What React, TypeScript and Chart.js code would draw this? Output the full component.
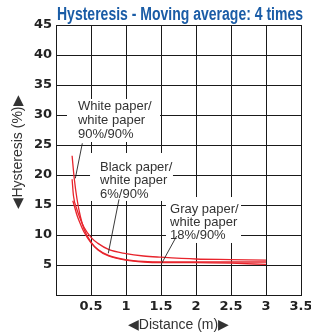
import React, { useEffect, useRef } from "react";
import { Chart, registerables } from "chart.js";

Chart.register(...registerables);

const TITLE = "Hysteresis - Moving average: 4 times";
const X_TITLE = "\u25C0Distance (m)\u25B6";
const Y_TITLE = "\u25C0Hysteresis (%)\u25B6";

const whiteX = [0.23, 0.26, 0.3, 0.35, 0.4, 0.5, 0.6, 0.75, 1.0, 1.25, 1.5, 2.0, 2.5, 3.0];
const whiteY = [23.2, 19.5, 16.0, 13.0, 11.0, 8.8, 7.5, 6.5, 5.8, 5.5, 5.4, 5.4, 5.3, 5.1];

const blackX = [0.23, 0.25, 0.3, 0.35, 0.4, 0.5, 0.6, 0.75, 1.0, 1.25, 1.5, 2.0, 2.5, 3.0];
const blackY = [19.3, 16.5, 14.2, 12.6, 11.3, 9.6, 8.6, 7.6, 6.9, 6.5, 6.3, 6.0, 5.9, 5.8];

const grayX = [0.24, 0.27, 0.3, 0.35, 0.4, 0.5, 0.6, 0.75, 1.0, 1.25, 1.5, 2.0, 2.5, 3.0];
const grayY = [15.7, 14.5, 13.3, 11.8, 10.5, 8.7, 7.6, 6.6, 5.9, 5.6, 5.5, 5.5, 5.5, 5.5];

const labelLines = [
  ["White paper/", "white paper", "90%/90%"],
  ["Black paper/", "white paper", "6%/90%"],
  ["Gray paper/", "white paper", "18%/90%"],
];

// annotation boxes in data coordinates: [x0, x1, yTop, yBottom], text x, text baselines, leader [x0,y0,x1,y1]
const annotations = [
  { box: [0.157, 1.486, 32.67, 25.5], tx: 0.314, ty: [30.83, 28.5, 26.17], leader: [0.376, 25.28, 0.276, 19.45] },
  { box: [0.486, 1.671, 23.67, 15.67], tx: 0.629, ty: [20.67, 18.42, 16.17], leader: [0.9, 15.95, 0.747, 6.95] },
  { box: [1.571, 2.643, 16.33, 8.67], tx: 1.629, ty: [13.67, 11.5, 9.33], leader: [1.724, 9.83, 1.51, 5.28] },
];

const RED = "#e8242c";

const toPts = (xs: number[], ys: number[]) => xs.map((x, i) => ({ x, y: ys[i] }));

export default function App() {
  const ref = useRef<HTMLCanvasElement>(null);
  useEffect(() => {
    document.body.style.margin = "0";
    const canvas = ref.current!;
    const plugin = {
      id: "custom",
      beforeDatasetsDraw(chart: any) {
        const ctx = chart.ctx;
        const xs = chart.scales.x;
        const ys = chart.scales.y;
        ctx.save();
        annotations.forEach((a, i) => {
          const x0 = xs.getPixelForValue(a.box[0]);
          const x1 = xs.getPixelForValue(a.box[1]);
          const y0 = ys.getPixelForValue(a.box[2]);
          const y1 = ys.getPixelForValue(a.box[3]);
          ctx.fillStyle = "#ffffff";
          ctx.fillRect(x0, y0, x1 - x0, y1 - y0);
          ctx.fillStyle = "#333333";
          ctx.font = "13px 'Liberation Sans', Arial, sans-serif";
          ctx.textAlign = "left";
          ctx.textBaseline = "alphabetic";
          labelLines[i].forEach((t, j) => {
            ctx.fillText(t, xs.getPixelForValue(a.tx), ys.getPixelForValue(a.ty[j]));
          });
        });
        ctx.restore();
      },
      afterDatasetsDraw(chart: any) {
        const ctx = chart.ctx;
        const xs = chart.scales.x;
        const ys = chart.scales.y;
        ctx.save();
        ctx.strokeStyle = "#222";
        ctx.lineWidth = 0.9;
        annotations.forEach((a) => {
          ctx.beginPath();
          ctx.moveTo(xs.getPixelForValue(a.leader[0]), ys.getPixelForValue(a.leader[1]));
          ctx.lineTo(xs.getPixelForValue(a.leader[2]), ys.getPixelForValue(a.leader[3]));
          ctx.stroke();
        });
        // title
        ctx.font = "bold 18px 'Liberation Sans', Arial, sans-serif";
        const w = ctx.measureText(TITLE).width;
        const target = 246;
        ctx.translate(57, 20);
        ctx.scale(target / w, 1);
        ctx.fillStyle = "#1a5ca6";
        ctx.textAlign = "left";
        ctx.textBaseline = "alphabetic";
        ctx.fillText(TITLE, 0, 0);
        ctx.restore();
        // y title
        ctx.save();
        ctx.translate(18, 152);
        ctx.rotate(-Math.PI / 2);
        ctx.font = "14px 'Liberation Sans', Arial, sans-serif";
        ctx.fillStyle = "#333";
        ctx.textAlign = "center";
        ctx.textBaseline = "middle";
        ctx.fillText(Y_TITLE, 0, 0);
        ctx.restore();
      },
    };
    const ds = (xs: number[], ys: number[]) => ({
      data: toPts(xs, ys),
      borderColor: RED,
      borderWidth: 1.3,
      pointRadius: 0,
      fill: false,
      cubicInterpolationMode: "monotone" as const,
    });
    const tickFont = { family: "'DejaVu Sans', sans-serif", size: 13, weight: "bold" as const };
    const chart = new Chart(canvas, {
      type: "line",
      data: {
        datasets: [ds(whiteX, whiteY), ds(blackX, blackY), ds(grayX, grayY)],
      },
      options: {
        animation: false,
        responsive: false,
        maintainAspectRatio: false,
        layout: { padding: { top: 25, right: 10, left: 0, bottom: 0 } },
        plugins: { legend: { display: false }, tooltip: { enabled: false }, title: { display: false } },
        scales: {
          x: {
            type: "linear",
            min: 0,
            max: 3.5,
            afterFit: (s: any) => { s.height = 40; s.paddingRight = 0; s.paddingLeft = 0; },
            ticks: {
              stepSize: 0.5,
              color: "#222",
              font: tickFont,
              padding: 4,
              maxRotation: 0,
              autoSkip: false,
              callback: (v: any) => (v === 0 ? "" : String(v)),
            },
            grid: { color: "#1a1a1a", lineWidth: 1, drawTicks: false },
            border: { color: "#1a1a1a", width: 1 },
            title: {
              display: true,
              text: X_TITLE,
              color: "#333",
              font: { family: "'Liberation Sans', Arial, sans-serif", size: 14 },
              padding: { top: 2, bottom: 1 },
            },
          },
          y: {
            type: "linear",
            min: 0,
            max: 45,
            afterFit: (s: any) => { s.width = 56; s.paddingTop = 0; s.paddingBottom = 0; },
            ticks: {
              stepSize: 5,
              color: "#222",
              font: tickFont,
              padding: 4,
              callback: (v: any) => (v === 0 ? "" : String(v)),
            },
            grid: { color: "#1a1a1a", lineWidth: 1, drawTicks: false },
            border: { color: "#1a1a1a", width: 1 },
          },
        },
      },
      plugins: [plugin],
    });
    return () => chart.destroy();
  }, []);
  return (
    <div style={{ width: 311, height: 335 }}>
      <canvas ref={ref} width={311} height={335} style={{ width: 311, height: 335, display: "block" }} />
    </div>
  );
}
